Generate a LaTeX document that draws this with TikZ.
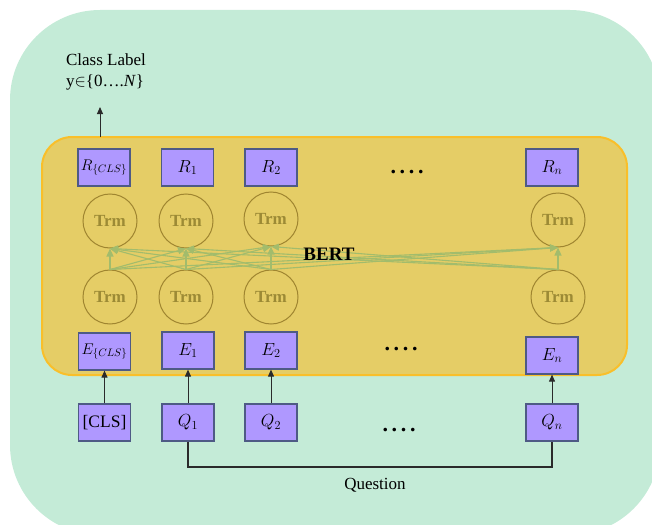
\RequirePackage{fix-cm}
\documentclass[tikz,border=0pt]{standalone}
\usepackage{fontspec}
\setmainfont{Liberation Serif}
\usetikzlibrary{arrows.meta}
\definecolor{bggreen}{HTML}{C4EBD7}
\definecolor{bertfill}{HTML}{E5CD66}
\definecolor{bertdraw}{HTML}{F9BF2A}
\definecolor{boxfill}{HTML}{AF98FF}
\definecolor{boxdraw}{HTML}{4E5A85}
\definecolor{trmdraw}{HTML}{9F8530}
\definecolor{trmtext}{HTML}{9C8A35}
\definecolor{linkgreen}{HTML}{A2BC6C}
\definecolor{inkgray}{HTML}{2A2A2A}
\tikzset{
  tok/.style={draw=boxdraw, fill=boxfill, line width=1.2pt, minimum width=52pt,
    minimum height=37pt, inner sep=0pt, font=\fontsize{17.5}{20}\selectfont},
  tokcls/.style={tok, font=\fontsize{15.5}{18}\selectfont},
  trm/.style={circle, draw=trmdraw, line width=1pt, minimum size=54pt, inner sep=0pt,
    text=trmtext, font=\bfseries\fontsize{17}{19}\selectfont},
  link/.style={draw=linkgreen, line width=1.1pt, -{Triangle[length=8pt,width=7pt]}},
  arr/.style={draw=inkgray, line width=1pt, -{Triangle[length=7pt,width=6pt]}},
  bracket/.style={draw=inkgray, line width=1.1pt},
  dots/.style={font=\bfseries\fontsize{22}{24}\selectfont, inner sep=0pt},
  plain/.style={font=\fontsize{17}{21}\selectfont, inner sep=0pt}
}
\begin{document}
\begin{tikzpicture}[x=1pt,y=-1pt]
\useasboundingbox (0,0) rectangle (652,524);
\clip (0,0) rectangle (652,524);
\fill[bggreen, rounded corners=90pt] (10,10) rectangle (660,535);
\draw[bertdraw, line width=2pt, fill=bertfill, rounded corners=30pt] (42,137) rectangle (627,375);

% output tokens
\node[tokcls] (rcls) at (104,167.5) {$R_{\{CLS\}}$};
\node[tok] (r1) at (187.5,167.5) {$R_1$};
\node[tok] (r2) at (271,167.5) {$R_2$};
\node[tok] (rn) at (552,167.5) {$R_n$};
\node[dots] (dtop) at (407,172) {.\,.\,.\,.};

% transformer layers
\node[trm] (t1) at (110,221) {Trm};
\node[trm] (t2) at (186,221) {Trm};
\node[trm] (t3) at (271,219) {Trm};
\node[trm] (tn) at (558,220) {Trm};
\node[trm] (b1) at (110,297) {Trm};
\node[trm] (b2) at (186,297) {Trm};
\node[trm] (b3) at (271,297) {Trm};
\node[trm] (bn) at (558,297) {Trm};

\foreach \b in {b1,b2,b3,bn}
  \foreach \t in {t1,t2,t3,tn}
    \draw[link] (\b.north) -- (\t.south);

\node[font=\bfseries\fontsize{19}{21}\selectfont, inner sep=0pt] (bert) at (329,254) {BERT};

% embeddings
\node[tokcls] (ecls) at (104.5,351.5) {$E_{\{CLS\}}$};
\node[tok] (e1) at (188,350.5) {$E_1$};
\node[tok] (e2) at (271,350.5) {$E_2$};
\node[tok] (en) at (552,355.5) {$E_n$};
\node[dots] (dmid) at (401,349) {.\,.\,.\,.};

% inputs
\node[tok] (cls) at (104.5,422.5) {[CLS]};
\node[tok] (q1) at (188,422.5) {$Q_1$};
\node[tok] (q2) at (271,422.5) {$Q_2$};
\node[tok] (qn) at (552,422.5) {$Q_n$};
\node[dots] (dbot) at (399,430) {.\,.\,.\,.};

\draw[arr] (cls.north) -- (ecls.south);
\draw[arr] (q1.north) -- (e1.south);
\draw[arr] (q2.north) -- (e2.south);
\draw[arr] (qn.north) -- (en.south);

% question bracket
\coordinate (qbar) at (0,467);
\draw[bracket] (q1.south) -- (q1.south |- qbar) -- (qn.south |- qbar) -- (qn.south);
\node[plain] (question) at (375,485) {Question};

% class label
\node[plain, align=left] (classlabel) at (106,72) {Class Label\\y$\in$\{0….\textit{N}\}};
\coordinate (clsout) at (100,137);
\coordinate (cltip) at (100,107);
\draw[arr] (clsout) -- (cltip);
\end{tikzpicture}
\end{document}
